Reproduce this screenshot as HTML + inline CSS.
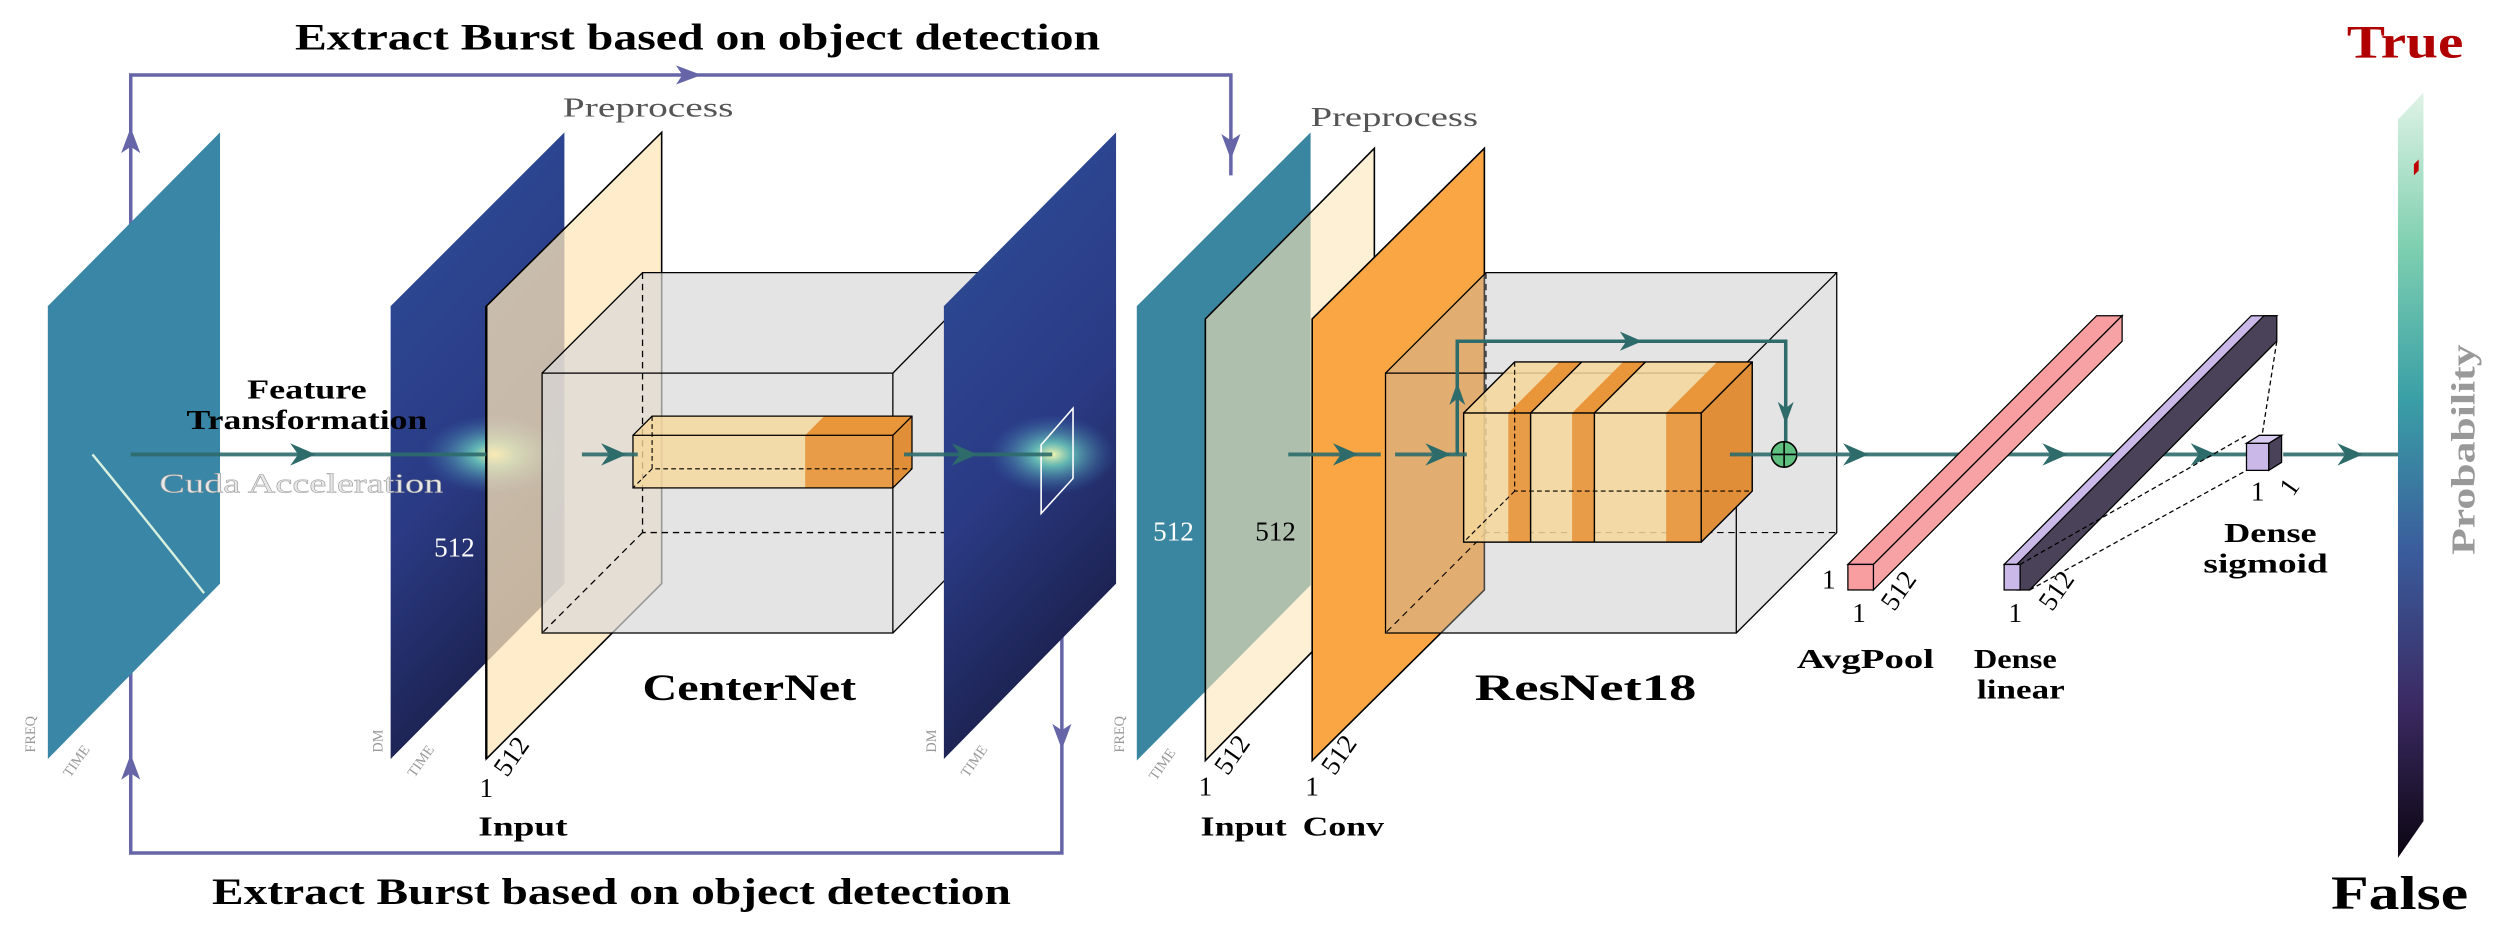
<!DOCTYPE html>
<html><head><meta charset="utf-8"><style>
html,body{margin:0;padding:0;background:#fff;width:2500px;height:928px;overflow:hidden}
svg{display:block}
text{font-family:"Liberation Serif",serif}
</style></head><body>
<svg width="2500" height="928" viewBox="0 0 1568 582" xmlns="http://www.w3.org/2000/svg">
<defs>
<linearGradient id="cbar" x1="0" y1="0" x2="0" y2="1">
<stop offset="0" stop-color="#e0f3e6"/><stop offset="0.2" stop-color="#7fd0b0"/><stop offset="0.4" stop-color="#3a9fa6"/><stop offset="0.6" stop-color="#3a5c9c"/><stop offset="0.8" stop-color="#3b2a63"/><stop offset="1" stop-color="#0b0510"/></linearGradient>
<linearGradient id="dmgrad" x1="0" y1="0" x2="0.3" y2="1">
<stop offset="0" stop-color="#2f4f9a"/><stop offset="0.6" stop-color="#2a3a84"/><stop offset="1" stop-color="#1a1f4a"/></linearGradient>
<radialGradient id="glow" cx="0.5" cy="0.5" r="0.5"><stop offset="0" stop-color="#f4f7b0"/><stop offset="0.3" stop-color="#6fd4c0" stop-opacity="0.8"/><stop offset="1" stop-color="#3a6fb0" stop-opacity="0"/></radialGradient>
</defs>

<g stroke="#6565a8" stroke-width="2.2" fill="none">
<path d="M82,480 L82,47 L772,47 L772,110"/>
</g>
<g stroke="#6565a8" stroke-width="2.2" fill="none">
<path d="M82,480 L82,535 L666,535 L666,360"/>
</g>
<g fill="#6565a8">
<path d="M82,80 l-6,16 l6,-4 l6,4z"/>
<path d="M440,47 l-16,-6 l4,6 l-4,6z"/>
<path d="M772,100 l-6,-16 l6,4 l6,-4z"/>
<path d="M666,470 l-6,-16 l6,4 l6,-4z"/>
<path d="M82,473 l-6,16 l6,-4 l6,4z"/>
</g>
<text x="185" y="31" font-size="23" font-weight="bold" textLength="505" lengthAdjust="spacingAndGlyphs">Extract Burst based on object detection</text>
<text x="133" y="567" font-size="23" font-weight="bold" textLength="501" lengthAdjust="spacingAndGlyphs">Extract Burst based on object detection</text>

<g>
<polygon points="30,192 138,83 138,366 30,476" fill="#3a86a6"/>
<path d="M58,285 Q95,330 128,372" stroke="#d8f0e0" stroke-width="1.5" fill="none"/>
<text x="22" y="472" font-size="9" fill="#999" transform="rotate(-90 22 472)">FREQ</text>
<text x="44" y="488" font-size="9" fill="#999" transform="rotate(-55 44 488)">TIME</text>
</g>

<g>
<polygon points="245,192 354,83 354,366 245,476" fill="url(#dmgrad)"/>
<ellipse cx="310" cy="285" rx="45" ry="25" fill="url(#glow)"/>
<text x="240" y="472" font-size="9" fill="#999" transform="rotate(-90 240 472)">DM</text>
<text x="260" y="488" font-size="9" fill="#999" transform="rotate(-55 260 488)">TIME</text>
</g>
<g>
<polygon points="305,192 415,83 415,366 305,476" fill="#fde6b8" fill-opacity="0.75" stroke="#000" stroke-width="1"/>
<line x1="305" y1="192" x2="305" y2="476" stroke="#000" stroke-width="1.5"/>
</g>
<text x="353" y="73" font-size="17" fill="#555" textLength="107" lengthAdjust="spacingAndGlyphs">Preprocess</text>
<text x="285" y="349" font-size="17" fill="#fff" text-anchor="middle">512</text>
<text x="305" y="500" font-size="17" text-anchor="middle">1</text>
<text x="318" y="488" font-size="17" transform="rotate(-55 318 488)">512</text>
<text x="300" y="524" font-size="17" font-weight="bold" textLength="56" lengthAdjust="spacingAndGlyphs">Input</text>

<g>
<polygon points="340,234 403,171 622,171 622,334 560,397 340,397" fill="#d8d8d8" fill-opacity="0.7"/>
<path d="M340,234 L403,171 L622,171 M560,234 L622,171 M560,397 L622,334" stroke="#000" stroke-width="0.8" fill="none"/>
<rect x="340" y="234" width="220" height="163" fill="none" stroke="#000" stroke-width="0.8"/>
<path d="M403,171 L403,334 L622,334 M403,334 L340,397" stroke="#000" stroke-width="0.8" stroke-dasharray="4,3" fill="none"/>
<polygon points="397,273 409,261 572,261 572,294 560,306 397,306" fill="#f5d79a" fill-opacity="0.8"/>
<polygon points="505,273 517,261 572,261 560,273" fill="#e9953a"/>
<rect x="505" y="273" width="55" height="33" fill="#e89c48"/>
<polygon points="560,273 572,261 572,294 560,306" fill="#e08e38"/>
<rect x="397" y="273" width="163" height="33" fill="none" stroke="#000" stroke-width="0.8"/>
<path d="M397,273 L409,261 L572,261 L572,294 L560,306 M560,273 L572,261" stroke="#000" stroke-width="0.8" fill="none"/>
<path d="M409,261 L409,294 L572,294 M409,294 L397,306" stroke="#000" stroke-width="0.7" stroke-dasharray="3,2" fill="none"/>
</g>
<text x="403" y="439" font-size="23" font-weight="bold" textLength="134" lengthAdjust="spacingAndGlyphs">CenterNet</text>

<g>
<polygon points="592,192 700,83 700,366 592,476" fill="url(#dmgrad)"/>
<ellipse cx="660" cy="285" rx="40" ry="25" fill="url(#glow)"/>
<polygon points="653,279 673,256 673,300 653,322" fill="none" stroke="#fff" stroke-width="1"/>
<text x="587" y="472" font-size="9" fill="#999" transform="rotate(-90 587 472)">DM</text>
<text x="607" y="488" font-size="9" fill="#999" transform="rotate(-55 607 488)">TIME</text>
</g>

<g>
<polygon points="713,192 822,83 822,367 713,477" fill="#3a86a0"/>
<text x="705" y="472" font-size="9" fill="#999" transform="rotate(-90 705 472)">FREQ</text>
<text x="725" y="490" font-size="9" fill="#999" transform="rotate(-55 725 490)">TIME</text>
</g>
<g>
<polygon points="756,200 862,93 862,369 756,477" fill="#fde6b8" fill-opacity="0.6" stroke="#000" stroke-width="1"/>
</g>
<text x="822" y="79" font-size="17" fill="#555" textLength="105" lengthAdjust="spacingAndGlyphs">Preprocess</text>

<g>
<polygon points="823,200 931,93 931,370 823,477" fill="#fba645" stroke="#000" stroke-width="1"/>
</g>
<g>
<polygon points="869,234 932,171 1152,171 1152,334 1089,397 869,397" fill="#b8b8b8" fill-opacity="0.38"/>
<path d="M869,234 L932,171 L1152,171 L1152,334 L1089,397 M1089,234 L1152,171" stroke="#000" stroke-width="0.8" fill="none"/>
<rect x="869" y="234" width="220" height="163" fill="none" stroke="#000" stroke-width="0.8"/>
<path d="M932,171 L932,334 L1152,334 M932,334 L869,397" stroke="#000" stroke-width="0.7" stroke-dasharray="4,3" fill="none"/>
</g>
<g>
<polygon points="918,259 950,227 1099,227 1099,308 1067,340 918,340" fill="#f5d79a" fill-opacity="0.85"/>
<rect x="946" y="259" width="14" height="81" fill="#e89c48"/>
<rect x="986" y="259" width="14" height="81" fill="#e89c48"/>
<rect x="1045" y="259" width="22" height="81" fill="#e89c48"/>
<path d="M946,259 l32,-32 h14 l-32,32z M986,259 l32,-32 h14 l-32,32z M1045,259 l32,-32 h22 l-32,32z" fill="#e9953a"/>
<polygon points="1067,259 1099,227 1099,308 1067,340" fill="#e08e38"/>
<rect x="918" y="259" width="149" height="81" fill="none" stroke="#000" stroke-width="0.9"/>
<path d="M960,259 v81 M960,259 l32,-32 M1000,259 v81 M1000,259 l32,-32 M918,259 l32,-32 h149 v81 l-32,32 M1067,259 l32,-32" stroke="#000" stroke-width="0.9" fill="none"/>
<path d="M950,227 v81 h149 M950,308 l-32,32" stroke="#000" stroke-width="0.7" stroke-dasharray="3,2" fill="none"/>
</g>
<text x="736" y="339" font-size="17" fill="#fff" text-anchor="middle">512</text>
<text x="800" y="339" font-size="17" text-anchor="middle">512</text>
<text x="756" y="499" font-size="17" text-anchor="middle">1</text>
<text x="770" y="487" font-size="17" transform="rotate(-55 770 487)">512</text>
<text x="823" y="499" font-size="17" text-anchor="middle">1</text>
<text x="837" y="487" font-size="17" transform="rotate(-55 837 487)">512</text>
<text x="753" y="524" font-size="17" font-weight="bold" textLength="54" lengthAdjust="spacingAndGlyphs">Input</text>
<text x="817" y="524" font-size="17" font-weight="bold" textLength="51" lengthAdjust="spacingAndGlyphs">Conv</text>
<text x="925" y="439" font-size="23" font-weight="bold" textLength="139" lengthAdjust="spacingAndGlyphs">ResNet18</text>

<path d="M914,285 L914,214 L1120,214 L1120,277" stroke="#2e6b6b" stroke-width="2.2" fill="none"/>
<g fill="#2e6b6b">
<path d="M1030,214 l-14,-6 l4,6 l-4,6z"/>
<path d="M914,240 l-5,14 l5,-4 l5,4z"/>
<path d="M1120,266 l-5,-14 l5,4 l5,-4z"/>
</g>
<circle cx="1119" cy="285" r="8" fill="#5fbf7f" stroke="#000" stroke-width="1"/>
<path d="M1111,285 h16 M1119,277 v16" stroke="#000" stroke-width="1"/>

<g stroke="#2e6b6b" stroke-width="2.5" stroke-opacity="0.9" fill="none">
<path d="M82,285 L305,285"/><path d="M365,285 L400,285"/><path d="M567,285 L660,285"/>
<path d="M808,285 L866,285"/><path d="M875,285 L920,285"/><path d="M1085,285 L1111,285"/><path d="M1127,285 L1410,285"/><path d="M1432,285 L1510,285"/>
</g>
<g fill="#2e6b6b">
<path d="M198,285 l-16,-7 l5,7 l-5,7z"/>
<path d="M393,285 l-16,-7 l5,7 l-5,7z"/>
<path d="M613,285 l-16,-7 l5,7 l-5,7z"/>
<path d="M852,285 l-16,-7 l5,7 l-5,7z"/>
<path d="M910,285 l-16,-7 l5,7 l-5,7z"/>
<path d="M1172,285 l-16,-7 l5,7 l-5,7z"/>
<path d="M1297,285 l-16,-7 l5,7 l-5,7z"/>
<path d="M1390,285 l-16,-7 l5,7 l-5,7z"/>
<path d="M1482,285 l-16,-7 l5,7 l-5,7z"/>
</g>
<text x="155" y="250" font-size="17" font-weight="bold" textLength="75" lengthAdjust="spacingAndGlyphs">Feature</text>
<text x="117" y="269" font-size="17" font-weight="bold" textLength="151" lengthAdjust="spacingAndGlyphs">Transformation</text>
<text x="100" y="309" font-size="17" fill="#e8e8e8" stroke="#999" stroke-width="0.3" textLength="178" lengthAdjust="spacingAndGlyphs">Cuda Acceleration</text>

<g stroke="#000" stroke-width="0.8">
<polygon points="1159,354 1315,198 1331,198 1175,354" fill="#f99ea0"/>
<polygon points="1175,354 1331,198 1331,214 1175,370" fill="#f7a2a4"/>
<rect x="1159" y="354" width="16" height="16" fill="#f99ea0"/>
</g>
<text x="1147" y="369" font-size="17" text-anchor="middle">1</text>
<text x="1166" y="390" font-size="17" text-anchor="middle">1</text>
<text x="1188" y="384" font-size="17" transform="rotate(-55 1188 384)">512</text>
<text x="1127" y="419" font-size="17" font-weight="bold" textLength="86" lengthAdjust="spacingAndGlyphs">AvgPool</text>

<g stroke="#000" stroke-width="0.8">
<polygon points="1257,354 1412,198 1428,198 1273,354" fill="#c9b8e8"/>
<polygon points="1265,354 1420,198 1428,198 1428,214 1273,370 1265,370" fill="#4a4258"/>
<rect x="1257" y="354" width="10" height="16" fill="#c9b8e8"/>
</g>
<text x="1264" y="390" font-size="17" text-anchor="middle">1</text>
<text x="1287" y="384" font-size="17" transform="rotate(-55 1287 384)">512</text>
<text x="1238" y="419" font-size="17" font-weight="bold" textLength="52" lengthAdjust="spacingAndGlyphs">Dense</text>
<text x="1240" y="438" font-size="17" font-weight="bold" textLength="55" lengthAdjust="spacingAndGlyphs">linear</text>
<path d="M1428,214 L1418,278 M1273,370 L1409,295 M1267,354 L1409,273" stroke="#000" stroke-width="0.8" stroke-dasharray="3,2" fill="none"/>

<g stroke="#000" stroke-width="0.8">
<rect x="1409" y="278" width="14" height="17" fill="#c9b8e8"/>
<polygon points="1423,278 1431,273 1431,290 1423,295" fill="#4a4258"/>
<polygon points="1409,278 1417,273 1431,273 1423,278" fill="#d8ccf0"/>
</g>
<text x="1416" y="314" font-size="17" text-anchor="middle">1</text>
<text x="1438" y="312" font-size="17" transform="rotate(-55 1438 312)">1</text>
<text x="1395" y="340" font-size="17" font-weight="bold" textLength="58" lengthAdjust="spacingAndGlyphs">Dense</text>
<text x="1382" y="359" font-size="17" font-weight="bold" textLength="78" lengthAdjust="spacingAndGlyphs">sigmoid</text>

<polygon points="1504,75 1520,58 1520,515 1504,538" fill="url(#cbar)"/>
<path d="M1514,103 l3,-3 l0,7 l-3,3z" fill="#c00000"/>
<text x="1472" y="36" font-size="29" font-weight="bold" fill="#b00000" textLength="73" lengthAdjust="spacingAndGlyphs">True</text>
<text x="1462" y="570" font-size="30" font-weight="bold" textLength="86" lengthAdjust="spacingAndGlyphs">False</text>
<text x="1552" y="282" font-size="21" font-weight="bold" fill="#999" text-anchor="middle" textLength="132" lengthAdjust="spacingAndGlyphs" transform="rotate(-90 1552 282)">Probability</text>
</svg>
</body></html>
